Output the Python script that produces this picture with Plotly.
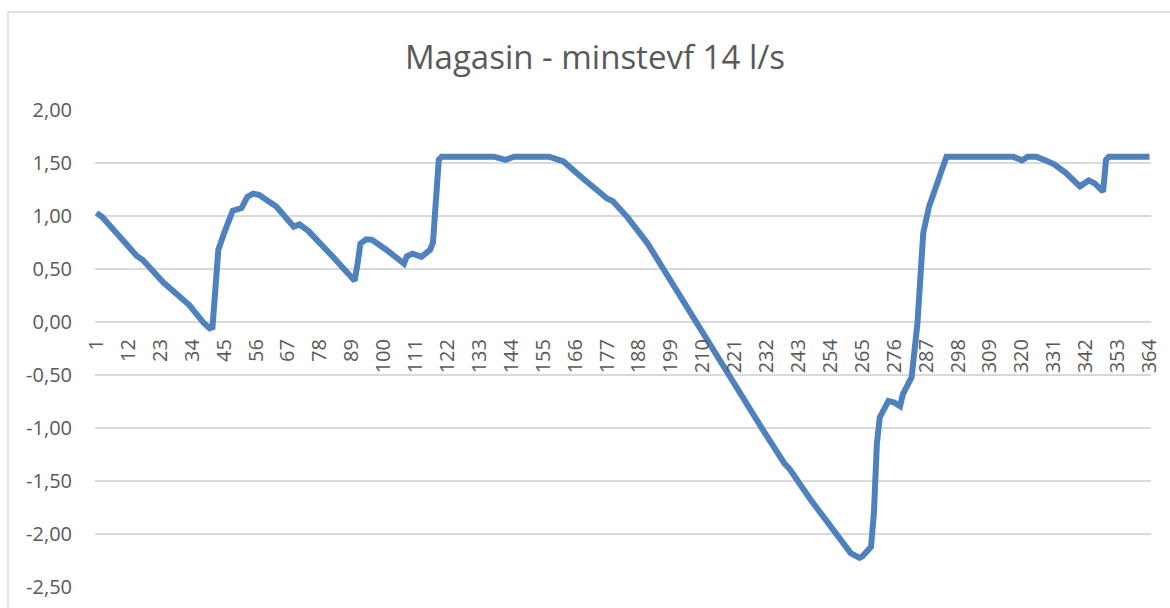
import plotly.graph_objects as go

# Data (day, storage value)
days = [1, 3, 15, 17, 24, 33, 38, 40, 41, 42, 43, 45, 47, 48, 51, 53, 55, 57, 63, 69,
        71, 74, 82, 90, 91, 92, 94, 96, 101, 107, 108, 110, 113, 116, 117, 118, 119, 120,
        138, 142, 145, 157, 162, 168, 175, 177, 179, 184, 191, 202, 206, 210, 219, 224,
        226, 231, 238, 240, 247, 250, 256, 261, 264, 265, 267, 268, 269, 270, 271, 272,
        274, 276, 278, 279, 282, 284, 286, 288, 290, 292, 294, 317, 320, 322, 325, 328,
        331, 335, 340, 343, 345, 348, 349, 350, 364]
values = [1.03, 0.99, 0.62, 0.585, 0.375, 0.16, -0.01, -0.06, -0.05, 0.25, 0.68, 0.84, 1.00, 1.05,
          1.075, 1.18, 1.21, 1.20, 1.09, 0.90, 0.92, 0.86, 0.63, 0.39, 0.55, 0.74, 0.78, 0.775,
          0.68, 0.55, 0.62, 0.645, 0.615, 0.68, 0.75, 1.25, 1.53, 1.56, 1.56, 1.53, 1.56, 1.56,
          1.515, 1.37, 1.20, 1.165, 1.14, 0.99, 0.74, 0.25, 0.07, -0.11, -0.51, -0.74, -0.83,
          -1.03, -1.33, -1.39, -1.67, -1.78, -2.00, -2.18, -2.225, -2.21, -2.15, -2.12, -1.80,
          -1.15, -0.90, -0.84, -0.745, -0.76, -0.795, -0.68, -0.52, -0.01, 0.84, 1.09, 1.245,
          1.40, 1.56, 1.56, 1.525, 1.56, 1.56, 1.525, 1.49, 1.41, 1.28, 1.335, 1.31, 1.23,
          1.53, 1.56, 1.56]

x_ticks = list(range(1, 365, 11))
x_ticktext = [str(v) for v in x_ticks]
y_ticks = [-2.5, -2.0, -1.5, -1.0, -0.5, 0.0, 0.5, 1.0, 1.5, 2.0]
y_ticktext = ["-2,50", "-2,00", "-1,50", "-1,00", "-0,50", "0,00", "0,50", "1,00", "1,50", "2,00"]

title = "Magasin - minstevf 14 l/s"

W, H = 1170, 608
L, R, T, B = 95, 19, 110, 21
pw, ph = W - L - R, H - T - B

fig = go.Figure()
fig.add_trace(go.Scatter(x=days, y=values, mode="lines",
                         line=dict(color="#4F81BD", width=6), hoverinfo="x+y",
                         showlegend=False))

ymin, ymax = -2.5, 2.0
fig.update_layout(
    width=W, height=H,
    margin=dict(l=L, r=R, t=T, b=B, autoexpand=False),
    paper_bgcolor="white", plot_bgcolor="white",
    font=dict(family="Open Sans", color="#595959"),
    title=dict(text=title, x=(595 - L) / pw, xref="paper", xanchor="center",
               y=1 - 57 / H, yref="container", yanchor="middle",
               font=dict(size=33, color="#595959", family="Open Sans")),
    xaxis=dict(range=[0.5, 364.5], tickmode="array", tickvals=x_ticks, ticktext=x_ticktext,
               tickangle=-90, showgrid=False, zeroline=False, showline=False,
               anchor="free", position=(0 - ymin) / (ymax - ymin),
               ticks="outside", ticklen=8, tickcolor="rgba(0,0,0,0)",
               tickfont=dict(size=20, color="#595959")),
    yaxis=dict(range=[ymin, ymax], tickmode="array", tickvals=y_ticks, ticktext=y_ticktext,
               showgrid=True, gridcolor="#D9D9D9", gridwidth=1.5, zeroline=False,
               showline=False, ticks="outside", ticklen=18, tickcolor="rgba(0,0,0,0)",
               tickfont=dict(size=20, color="#595959")),
)

# chart-area border (light gray frame, cropped at right/bottom)
bx = (8 - L) / pw
by = (H - B - 12) / ph
fig.add_shape(type="line", xref="paper", yref="paper", x0=bx, x1=bx, y0=by, y1=-0.2,
              line=dict(color="#D9D9D9", width=1.5), layer="below")
fig.add_shape(type="line", xref="paper", yref="paper", x0=bx, x1=1.2, y0=by, y1=by,
              line=dict(color="#D9D9D9", width=1.5), layer="below")

fig.write_html("out.html", config={"displayModeBar": False},
               post_script="document.body.style.margin='0';")
